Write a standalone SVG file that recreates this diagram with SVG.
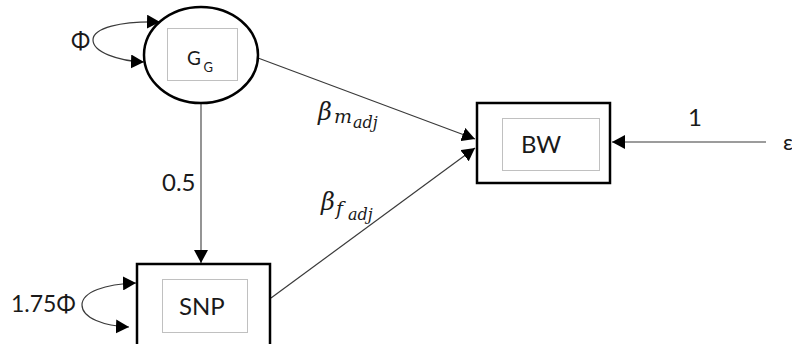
<svg xmlns="http://www.w3.org/2000/svg" width="792" height="344" viewBox="0 0 792 344">
<style>
.lbl{font-family:Lato,"Open Sans","Liberation Sans",sans-serif;fill:#1a1a1a}
.math{font-family:"DejaVu Serif","Liberation Serif",serif;font-style:italic;fill:#1a1a1a}
.outer{fill:#fff;stroke:#000;stroke-width:2.5}
.inner{fill:none;stroke:#c0c0c0;stroke-width:1}
.conn{fill:none;stroke:#3a3a3a;stroke-width:1.2}
</style>
<defs>
<marker id="ah" markerUnits="userSpaceOnUse" markerWidth="14" markerHeight="14" refX="13" refY="7" orient="auto-start-reverse">
<path d="M0,0 L13,7 L0,14 z" fill="#000"/>
</marker>
</defs>
<rect width="792" height="344" fill="#fff"/>
<g id="connectors">
<path class="conn" d="M258,58 L475,139" marker-end="url(#ah)"/>
<path class="conn" d="M271,298 L475,148" marker-end="url(#ah)"/>
<path class="conn" d="M201,103 L201,263" style="stroke:#7a7a7a;stroke-width:1.6" marker-end="url(#ah)"/>
<path class="conn" d="M766,142 L612,142" marker-end="url(#ah)"/>
<path class="conn" d="M160,22 C120,21 93,28 93,40 C93,52 118,61 144,62" marker-start="url(#ah)" marker-end="url(#ah)"/>
<path class="conn" d="M136,283 C105,284 82,292 82,305 C82,318 104,326 129,327" marker-start="url(#ah)" marker-end="url(#ah)"/>
</g>
<g id="GG">
<ellipse class="outer" cx="201" cy="55" rx="57" ry="48"/>
<rect class="inner" x="167.5" y="28.5" width="70" height="52"/>
<text class="lbl" x="187" y="65" font-size="19">G</text>
<text class="lbl" x="203.5" y="72" font-size="13">G</text>
</g>
<g id="BW">
<rect class="outer" x="477" y="103" width="133" height="80"/>
<rect class="inner" x="502.5" y="118.5" width="97" height="52"/>
<text class="lbl" x="521" y="153" font-size="24">BW</text>
</g>
<g id="SNP">
<rect class="outer" x="137" y="264" width="133" height="84"/>
<rect class="inner" x="162.5" y="279.5" width="85" height="53"/>
<text class="lbl" x="179" y="315" font-size="24">SNP</text>
</g>
<g id="labels">
<text class="lbl" x="71" y="49" font-size="23">Φ</text>
<text class="lbl" x="11" y="312" font-size="23">1.75Φ</text>
<text class="lbl" x="162" y="191" font-size="24">0.5</text>
<text class="lbl" x="688" y="126" font-size="24">1</text>
<text class="lbl" x="783" y="150" font-size="22">ε</text>
<text class="math" x="318" y="120" font-size="24">β</text>
<text class="math" x="334" y="123" font-size="19">m</text>
<text class="math" x="353" y="128" font-size="16">adj</text>
<text class="math" x="321" y="210" font-size="24">β</text>
<text class="math" x="336" y="215" font-size="19">f</text>
<text class="math" x="348" y="220" font-size="16">adj</text>
</g>
</svg>
